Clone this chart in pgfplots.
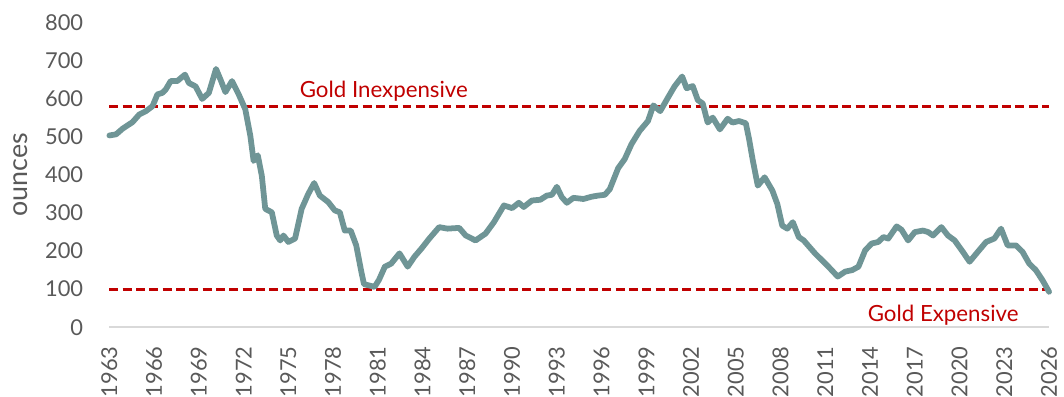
\documentclass[border=0pt]{standalone}
\usepackage{fontspec}
\setmainfont{Lato}
\usepackage{pgfplots}
\pgfplotsset{compat=1.18}
\definecolor{linec}{RGB}{111,149,150}
\definecolor{redc}{RGB}{192,0,0}
\definecolor{tickc}{RGB}{89,89,89}
\definecolor{axc}{RGB}{217,217,217}
\begin{document}
\begin{tikzpicture}
\begin{axis}[name=ax, scale only axis, width=472.5bp, height=153bp,
  xmin=1963, xmax=2026, ymin=0, ymax=800,
  axis x line*=bottom, axis y line*=left,
  x axis line style={draw=axc, line width=1bp, -},
  y axis line style={draw=none},
  major tick length=0pt,
  xtick={1963,1966,...,2026}, ytick={0,100,...,800},
  /pgf/number format/1000 sep={},
  /pgf/number format/assume math mode=true,
  tick label style={font=\fontsize{11bp}{13bp}\selectfont, text=tickc, inner sep=0pt},
  xticklabel style={rotate=90, anchor=east},
  yticklabel style={anchor=east},
  xticklabel shift=9.5bp, yticklabel shift=13bp,
  clip=false]
\addplot[redc, line width=1.4bp, dash pattern=on 4.5bp off 2.2bp] coordinates {(1963,580) (2026,580)};
\addplot[redc, line width=1.4bp, dash pattern=on 4.5bp off 2.2bp] coordinates {(1963,100) (2026,100)};
\addplot[linec, line width=2.9bp, line join=round, line cap=round] coordinates {
(1963.0,504) (1963.45,507) (1963.89,522) (1964.55,539) (1965.0,559) (1965.45,568)
(1965.89,581) (1966.22,612) (1966.55,616) (1966.78,625) (1967.11,647) (1967.55,647)
(1968.07,664) (1968.33,642) (1968.78,633) (1969.22,600) (1969.67,616) (1970.15,679)
(1970.45,651) (1970.78,618) (1971.22,647) (1971.67,612) (1972.11,573) (1972.45,503)
(1972.67,437) (1972.95,452) (1973.22,398) (1973.45,311) (1973.89,302) (1974.22,241)
(1974.45,228) (1974.67,241) (1975.0,224) (1975.45,233) (1975.89,311) (1976.33,350)
(1976.73,379) (1977.11,346) (1977.67,329) (1978.11,307) (1978.45,302) (1978.78,254)
(1979.18,254) (1979.55,215) (1979.89,146) (1980.07,113) (1980.78,106) (1981.07,124)
(1981.47,159) (1981.89,167) (1982.45,194) (1983.0,159) (1983.45,185) (1983.93,207)
(1984.45,233) (1985.11,263) (1985.67,259) (1986.45,261) (1986.89,241) (1987.55,228)
(1988.22,246) (1988.78,276) (1989.45,320) (1990.0,313) (1990.45,327) (1990.78,316)
(1991.33,333) (1991.89,335) (1992.33,346) (1992.67,348) (1993.0,369) (1993.33,342)
(1993.67,327) (1994.11,340) (1994.78,337) (1995.33,343) (1995.78,346) (1996.22,348)
(1996.55,363) (1997.11,418) (1997.55,442) (1998.0,481) (1998.55,516) (1999.11,542)
(1999.47,583) (1999.93,568) (2000.47,605) (2000.89,633) (2001.4,659) (2001.7,628)
(2002.11,634) (2002.45,597) (2002.78,588) (2003.11,538) (2003.45,551) (2003.93,520)
(2004.45,548) (2004.78,538) (2005.22,542) (2005.67,536) (2005.89,494) (2006.13,440)
(2006.47,372) (2006.93,394) (2007.45,359) (2007.78,324) (2008.11,267) (2008.45,259)
(2008.82,276) (2009.22,237) (2009.55,228) (2010.33,193) (2011.11,163) (2011.83,133)
(2012.33,146) (2012.8,150) (2013.22,159) (2013.67,202) (2014.11,220) (2014.55,224)
(2014.89,237) (2015.22,233) (2015.78,265) (2016.11,256) (2016.55,228) (2017.0,250)
(2017.55,254) (2017.89,250) (2018.22,241) (2018.78,263) (2019.22,241) (2019.67,228)
(2020.22,198) (2020.67,172) (2021.22,198) (2021.78,224) (2022.33,233) (2022.78,259)
(2023.22,215) (2023.78,215) (2024.22,198) (2024.67,167) (2025.11,150) (2025.55,124)
(2026.0,93)};
\node[redc, anchor=base, font=\fontsize{11.2bp}{13bp}\selectfont] at (axis cs:1981.4,604) {Gold Inexpensive};
\node[redc, anchor=base, font=\fontsize{11.2bp}{13bp}\selectfont] at (axis cs:2018.9,16) {Gold Expensive};
\end{axis}
\node[tickc, rotate=90, font=\fontsize{13.5bp}{15bp}\selectfont, inner sep=0pt] at ([xshift=-44.5bp, yshift=76.5bp]ax.south west) {ounces};
\pgfresetboundingbox
\path[use as bounding box] ([xshift=-55bp, yshift=-35bp]ax.south west) rectangle ([xshift=480bp, yshift=164.5bp]ax.south west);
\end{tikzpicture}
\end{document}
